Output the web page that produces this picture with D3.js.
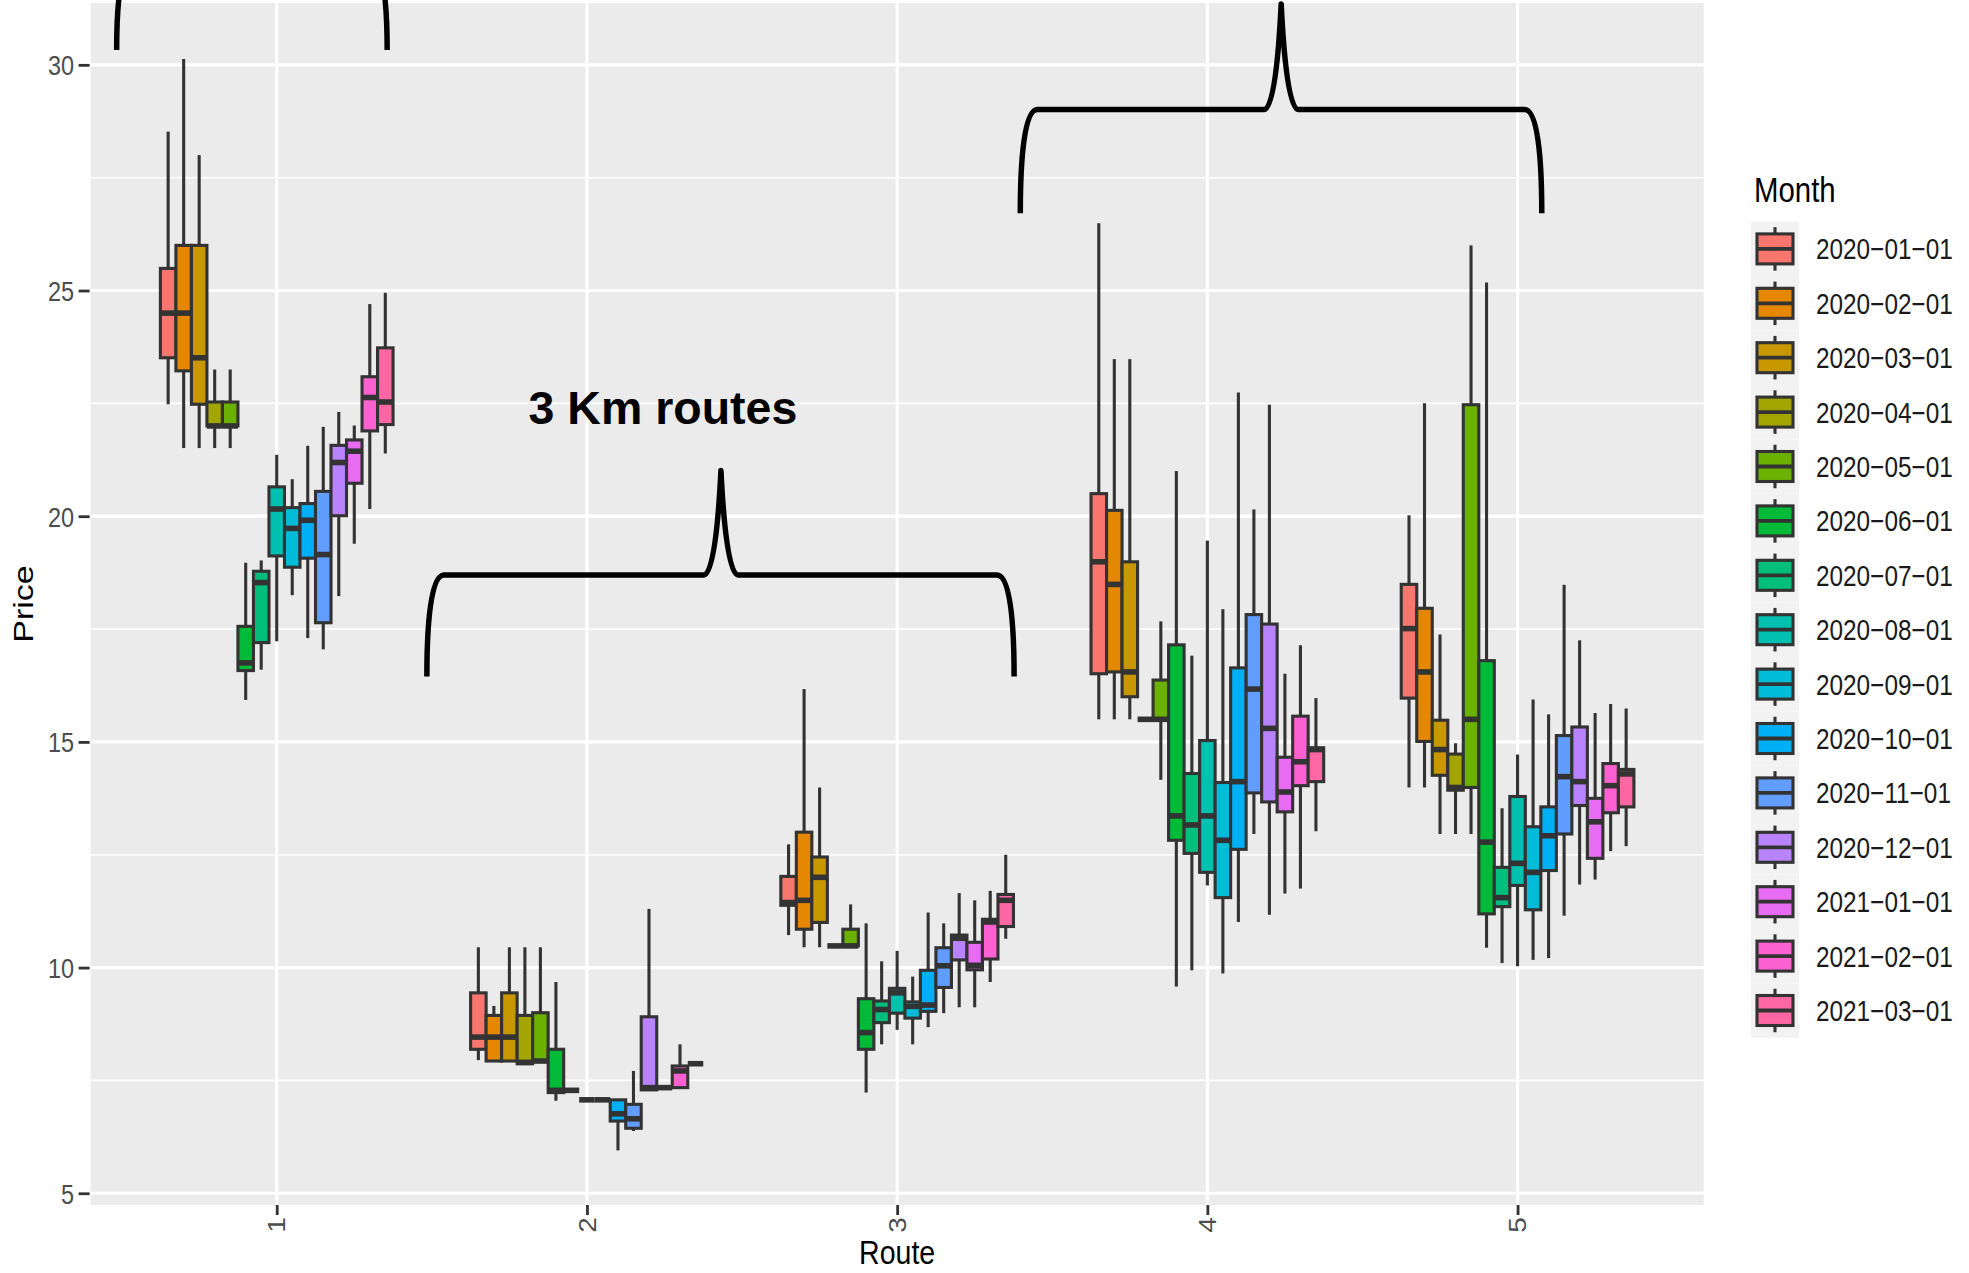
<!DOCTYPE html>
<html><head><meta charset="utf-8">
<script src="https://cdn.jsdelivr.net/npm/d3@7"></script>
<style>body{margin:0;background:#fff}</style>
</head><body>
<svg id="chart" width="1969" height="1273"></svg>
<script>
// ---------- data ----------
const routes = [1, 2, 3, 4, 5];
const months = ["2020-01-01","2020-02-01","2020-03-01","2020-04-01","2020-05-01","2020-06-01","2020-07-01","2020-08-01","2020-09-01","2020-10-01","2020-11-01","2020-12-01","2021-01-01","2021-02-01","2021-03-01"];
const monthColors = ["#F8766D","#E58700","#C99800","#A3A500","#6BB100","#00BA38","#00BF7D","#00C0AF","#00BCD8","#00B0F6","#619CFF","#B983FF","#E76BF3","#FD61D1","#FF67A4"];
const yTicks = [5, 10, 15, 20, 25, 30];
const yMinorTicks = [7.5, 12.5, 17.5, 22.5, 27.5];
const xTickLabels = ["1", "2", "3", "4", "5"];

// each entry: [lower whisker, Q1, median, Q3, upper whisker], one per month
const route1 = [
  [22.48, 23.51, 24.5, 25.49, 28.52],
  [21.51, 23.22, 24.5, 26.0, 30.13],
  [21.51, 22.48, 23.51, 26.0, 28.0],
  [21.51, 22.0, 22.0, 22.53, 23.25],
  [21.51, 22.0, 22.0, 22.53, 23.25],
  [15.93, 16.58, 16.75, 17.56, 18.97],
  [16.6, 17.2, 18.53, 18.78, 19.02],
  [17.23, 19.12, 20.16, 20.65, 21.36],
  [18.25, 18.87, 19.73, 20.19, 20.82],
  [17.3, 19.07, 19.91, 20.28, 21.56],
  [17.05, 17.64, 19.15, 20.55, 21.98],
  [18.23, 20.01, 21.19, 21.57, 22.31],
  [19.39, 20.73, 21.44, 21.69, 22.01],
  [20.16, 21.89, 22.63, 23.09, 24.7],
  [21.39, 22.03, 22.53, 23.73, 24.95]
];
const route2 = [
  [7.95, 8.19, 8.46, 9.44, 10.45],
  [7.93, 7.93, 8.46, 8.94, 9.15],
  [7.93, 7.93, 8.46, 9.44, 10.45],
  [7.87, 7.87, 7.9, 8.94, 10.45],
  [7.93, 7.93, 7.93, 9.0, 10.45],
  [7.05, 7.23, 7.28, 8.19, 9.68],
  [7.28, 7.28, 7.28, 7.28, 7.28],
  [7.07, 7.07, 7.07, 7.07, 7.07],
  [7.07, 7.07, 7.07, 7.07, 7.07],
  [5.95, 6.6, 6.76, 7.07, 7.07],
  [6.38, 6.44, 6.65, 6.97, 7.71],
  [7.29, 7.29, 7.34, 8.91, 11.3],
  [7.34, 7.34, 7.34, 7.34, 7.34],
  [7.34, 7.34, 7.71, 7.82, 8.3],
  [7.87, 7.87, 7.87, 7.87, 7.87]
];
const route3 = [
  [10.72, 11.38, 11.44, 12.02, 12.73],
  [10.45, 10.85, 11.49, 13.0, 16.17],
  [10.45, 11.0, 12.0, 12.45, 13.99],
  [10.48, 10.48, 10.48, 10.48, 10.48],
  [10.48, 10.48, 10.48, 10.85, 11.4],
  [7.23, 8.19, 8.56, 9.31, 10.98],
  [8.3, 8.78, 9.07, 9.26, 10.14],
  [8.62, 8.99, 9.44, 9.54, 10.37],
  [8.3, 8.88, 9.14, 9.24, 9.8],
  [8.68, 9.03, 9.17, 9.94, 11.22],
  [8.99, 9.56, 10.04, 10.44, 10.98],
  [9.12, 10.17, 10.65, 10.72, 11.65],
  [9.12, 9.95, 10.05, 10.56, 11.49],
  [9.68, 10.19, 11.01, 11.07, 11.7],
  [10.64, 10.91, 11.49, 11.62, 12.5]
];
const route4 = [
  [15.5, 16.51, 18.99, 20.5, 26.49],
  [15.5, 16.55, 18.49, 20.13, 23.48],
  [15.5, 16.0, 16.55, 18.99, 23.48],
  [15.5, 15.5, 15.5, 15.5, 15.5],
  [14.16, 15.5, 15.5, 16.37, 17.67],
  [9.58, 12.82, 13.36, 17.15, 21.0],
  [9.94, 12.53, 13.16, 14.3, 16.91],
  [11.82, 12.11, 13.36, 15.03, 19.46],
  [9.87, 11.55, 12.82, 14.1, 17.94],
  [11.01, 12.62, 14.12, 16.64, 22.74],
  [12.96, 13.87, 16.17, 17.82, 20.15],
  [11.17, 13.67, 15.3, 17.61, 22.47],
  [11.64, 13.45, 13.89, 14.66, 16.51],
  [11.75, 14.03, 14.56, 15.57, 17.14],
  [13.02, 14.12, 14.83, 14.87, 15.97]
];
const route5 = [
  [13.99, 15.97, 17.51, 18.49, 20.02],
  [13.99, 15.01, 16.55, 17.96, 22.5],
  [12.96, 14.26, 14.83, 15.48, 17.38],
  [12.96, 13.93, 13.99, 14.73, 14.97],
  [12.96, 13.99, 15.5, 22.47, 26.0],
  [10.44, 11.19, 12.78, 16.8, 25.18],
  [10.1, 11.35, 11.55, 12.22, 13.53],
  [10.03, 11.82, 12.31, 13.79, 14.72],
  [10.17, 11.28, 12.11, 13.12, 15.94],
  [10.21, 12.15, 12.92, 13.56, 15.61],
  [11.15, 12.96, 14.23, 15.14, 18.48],
  [11.84, 13.59, 14.12, 15.33, 17.25],
  [11.95, 12.42, 13.23, 13.75, 15.64],
  [12.58, 13.43, 14.03, 14.52, 15.84],
  [12.69, 13.56, 14.29, 14.39, 15.74]
];
const routeStats = [route1, route2, route3, route4, route5];

// curly-brace annotations, in data units (route, price)
const braces = [
  {x0: 0.484, x1: 1.356, yEnd: 30.33, yBase: 32.3, xPeak: 0.92, yPeak: 34.6},
  {x0: 1.484, x1: 3.377, yEnd: 16.45, yBase: 18.70, xPeak: 2.432, yPeak: 21.01},
  {x0: 3.397, x1: 5.078, yEnd: 26.71, yBase: 29.01, xPeak: 4.238, yPeak: 31.35}
];
const annotationLabels = [{text: "3 Km routes", x: 2.245, y: 22.05}];

// ---------- layout ----------
const svg = d3.select("#chart");
const panel = {left: 90.6, right: 1703.7, top: 3, bottom: 1205};
const x = d3.scaleLinear().domain([0.4, 5.6]).range([panel.left, panel.right]);
const y = d3.scaleLinear().domain([4.74, 31.37]).range([panel.bottom, panel.top]);
const dodge = 0.05;           // slot width per month (route units)
const SQ = 0.84;              // horizontal squeeze of ggplot text in the picture
const FONT = "'Liberation Sans', Arial, sans-serif";
const boxStroke = "#333333";
const lw = 3.1, medW = 5.6;

// panel background
svg.append("rect").attr("x", panel.left).attr("y", panel.top)
  .attr("width", panel.right - panel.left).attr("height", panel.bottom - panel.top)
  .attr("fill", "#EBEBEB");

const grid = svg.append("g");
grid.selectAll(".minor").data(yMinorTicks).join("line")
  .attr("x1", panel.left).attr("x2", panel.right)
  .attr("y1", d => y(d)).attr("y2", d => y(d))
  .attr("stroke", "#fff").attr("stroke-width", 1.6);
grid.selectAll(".majorY").data(yTicks).join("line")
  .attr("x1", panel.left).attr("x2", panel.right)
  .attr("y1", d => y(d)).attr("y2", d => y(d))
  .attr("stroke", "#fff").attr("stroke-width", 3.2);
grid.selectAll(".majorX").data(routes).join("line")
  .attr("y1", panel.top).attr("y2", panel.bottom)
  .attr("x1", d => x(d)).attr("x2", d => x(d))
  .attr("stroke", "#fff").attr("stroke-width", 3.2);

// ---------- boxes ----------
const boxData = [];
routeStats.forEach((stats, ri) => {
  stats.forEach((s, mi) => {
    boxData.push({route: routes[ri], m: mi, lo: s[0], q1: s[1], med: s[2], q3: s[3], hi: s[4]});
  });
});
const bw = x(dodge) - x(0);
const cx = d => x(d.route + (d.m - 7) * dodge);

const boxes = svg.append("g").selectAll("g").data(boxData).join("g");
boxes.append("line").attr("x1", cx).attr("x2", cx)
  .attr("y1", d => y(d.q3)).attr("y2", d => y(d.hi))
  .attr("stroke", boxStroke).attr("stroke-width", lw);
boxes.append("line").attr("x1", cx).attr("x2", cx)
  .attr("y1", d => y(d.q1)).attr("y2", d => y(d.lo))
  .attr("stroke", boxStroke).attr("stroke-width", lw);
boxes.append("rect")
  .attr("x", d => cx(d) - bw / 2).attr("width", bw)
  .attr("y", d => y(d.q3)).attr("height", d => y(d.q1) - y(d.q3))
  .attr("fill", d => monthColors[d.m]).attr("stroke", boxStroke).attr("stroke-width", lw);
boxes.append("line")
  .attr("x1", d => cx(d) - bw / 2).attr("x2", d => cx(d) + bw / 2)
  .attr("y1", d => y(d.med)).attr("y2", d => y(d.med))
  .attr("stroke", boxStroke).attr("stroke-width", medW);

// ---------- braces & annotation ----------
function bracePath(b) {
  const X0 = x(b.x0), X1 = x(b.x1), YE = y(b.yEnd), YB = y(b.yBase), XP = x(b.xPeak), YP = y(b.yPeak);
  const w = 17, pw = 17, h = YE - YB, ph = YB - YP;
  return `M${X0},${YE} C${X0},${YE - 0.55 * h} ${X0 + 0.25 * w},${YB} ${X0 + w},${YB}` +
    ` L${XP - pw},${YB} C${XP - 0.45 * pw},${YB} ${XP - 0.15 * pw},${YB - 0.5 * ph} ${XP},${YP}` +
    ` C${XP + 0.15 * pw},${YB - 0.5 * ph} ${XP + 0.45 * pw},${YB} ${XP + pw},${YB}` +
    ` L${X1 - w},${YB} C${X1 - 0.25 * w},${YB} ${X1},${YE - 0.55 * h} ${X1},${YE}`;
}
svg.append("g").selectAll("path").data(braces).join("path")
  .attr("d", bracePath).attr("fill", "none").attr("stroke", "#000")
  .attr("stroke-width", 5.5).attr("stroke-linejoin", "round");

svg.append("g").selectAll("text").data(annotationLabels).join("text")
  .attr("x", d => x(d.x)).attr("y", d => y(d.y))
  .attr("text-anchor", "middle").attr("font-family", FONT)
  .attr("font-weight", "bold").attr("font-size", 46.5).attr("fill", "#000")
  .text(d => d.text);

// ---------- axes ----------
const yAxis = d3.axisLeft(y).tickValues(yTicks).tickSize(11).tickPadding(4).tickFormat(d3.format("d"));
const gy = svg.append("g").attr("transform", `translate(${panel.left - 1},0)`).call(yAxis);
gy.select(".domain").remove();
gy.selectAll(".tick line").attr("stroke", "#333").attr("stroke-width", 2.8);
gy.selectAll(".tick text").attr("font-family", FONT).attr("font-size", 28).attr("fill", "#4D4D4D")
  .attr("x", null).attr("dy", null)
  .attr("transform", `translate(-15.5,0) scale(${SQ},1)`).attr("dy", "0.35em");

const xAxis = d3.axisBottom(x).tickValues(routes).tickSize(10).tickFormat((d, i) => xTickLabels[i]);
const gx = svg.append("g").attr("transform", `translate(0,${panel.bottom})`).call(xAxis);
gx.select(".domain").remove();
gx.selectAll(".tick line").attr("stroke", "#333").attr("stroke-width", 2.8);
gx.selectAll(".tick text").attr("font-family", FONT).attr("font-size", 28).attr("fill", "#4D4D4D")
  .attr("y", null).attr("dy", "0.35em").attr("text-anchor", "middle")
  .attr("transform", `translate(0,20) scale(${SQ},1) rotate(-90)`);

svg.append("text").attr("transform", `translate(${(panel.left + panel.right) / 2},1264) scale(${SQ},1)`)
  .attr("text-anchor", "middle").attr("font-family", FONT).attr("font-size", 34).attr("fill", "#000")
  .text("Route");
svg.append("text").attr("transform", `translate(22.5,${(panel.top + panel.bottom) / 2}) scale(${SQ},1) rotate(-90)`)
  .attr("text-anchor", "middle").attr("dy", "0.35em").attr("font-family", FONT).attr("font-size", 34).attr("fill", "#000")
  .text("Price");

// ---------- legend ----------
const leg = {x: 1751, top: 221.7, keyW: 48, keyH: 54.4};
svg.append("text").attr("transform", `translate(1754,201.7) scale(${SQ},1)`)
  .attr("font-family", FONT).attr("font-size", 35).attr("fill", "#000").text("Month");
const keys = svg.append("g").selectAll("g").data(months).join("g")
  .attr("transform", (d, i) => `translate(${leg.x},${leg.top + i * leg.keyH})`);
keys.append("rect").attr("width", leg.keyW).attr("height", leg.keyH).attr("fill", "#F2F2F2");
keys.append("line").attr("x1", leg.keyW / 2).attr("x2", leg.keyW / 2)
  .attr("y1", leg.keyH * 0.1).attr("y2", leg.keyH * 0.9)
  .attr("stroke", boxStroke).attr("stroke-width", lw);
keys.append("rect").attr("x", 6).attr("width", leg.keyW - 12)
  .attr("y", leg.keyH / 2 - 15).attr("height", 30)
  .attr("fill", (d, i) => monthColors[i]).attr("stroke", boxStroke).attr("stroke-width", lw);
keys.append("line").attr("x1", 6).attr("x2", leg.keyW - 6)
  .attr("y1", leg.keyH / 2).attr("y2", leg.keyH / 2)
  .attr("stroke", boxStroke).attr("stroke-width", 3.8);
keys.append("text").attr("transform", `translate(${1816 - leg.x},${leg.keyH / 2 + 10.4}) scale(${SQ},1)`)
  .attr("font-family", FONT).attr("font-size", 29).attr("fill", "#1a1a1a")
  .text(d => d.replace(/-/g, "\u2212"));
</script>
</body></html>
